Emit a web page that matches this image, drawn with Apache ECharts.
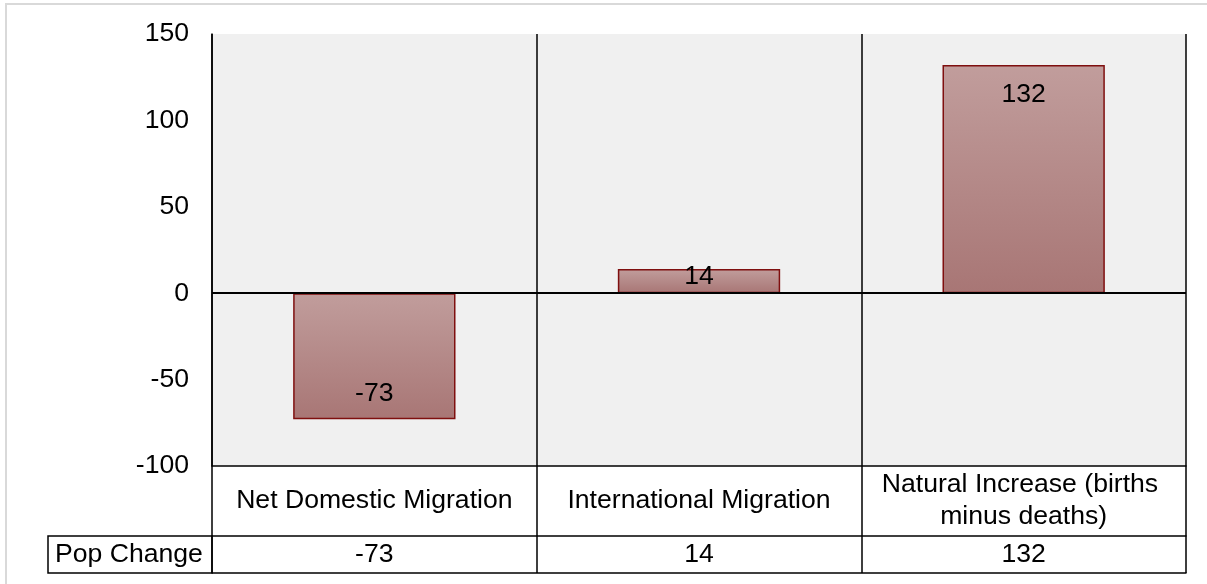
<!DOCTYPE html>
<html>
<head>
<meta charset="utf-8">
<script src="https://cdn.jsdelivr.net/npm/echarts@6/dist/echarts.min.js"></script>
<style>
  html, body { margin: 0; padding: 0; background: #fff; }
  #chart { width: 1207px; height: 584px; }
</style>
</head>
<body>
<div id="chart"></div>
<script>
var categories = ['Net Domestic Migration', 'International Migration', 'Natural Increase (births minus deaths)'];
var popChange = [-73, 14, 132];
var seriesName = 'Pop Change';
var yTicks = [-100, -50, 0, 50, 100, 150];

var font = 'Liberation Sans, Arial, sans-serif';
var fs = 26.6;

// label placement per bar (Excel "inside end")
var labelPlace = [
    { position: 'insideBottom', distance: 12 },
    { position: 'insideTop', distance: -6 },
    { position: 'insideTop', distance: 16 }
];

var chart = echarts.init(document.getElementById('chart'));

var option = {
    animation: false,
    grid: {
        left: 212,
        right: 21,
        top: 34,
        bottom: 118,
        show: true,
        backgroundColor: '#f0f0f0',
        borderWidth: 0,
        containLabel: false,
        outerBoundsMode: 'none'
    },
    xAxis: [
        {
            type: 'category',
            data: categories,
            position: 'bottom',
            axisLine: { onZero: false, lineStyle: { color: '#000', width: 1.5 } },
            axisTick: { show: true, length: 107, lineStyle: { color: '#000', width: 1.5 } },
            splitLine: { show: true, lineStyle: { color: '#000', width: 1.5 } },
            axisLabel: {
                color: '#000',
                fontFamily: font,
                fontSize: fs,
                margin: 35,
                verticalAlign: 'middle',
                lineHeight: 32,
                width: 310,
                overflow: 'break',
                interval: 0
            }
        },
        {
            type: 'category',
            data: categories,
            position: 'bottom',
            offset: 70,
            axisLine: { onZero: false, lineStyle: { color: '#000', width: 1.5 } },
            axisTick: { show: false },
            splitLine: { show: false },
            axisLabel: {
                color: '#000',
                fontFamily: font,
                fontSize: fs,
                margin: 19,
                verticalAlign: 'middle',
                interval: 0,
                formatter: function (v, i) { return String(popChange[i]); }
            }
        },
        {
            type: 'category',
            data: categories,
            position: 'bottom',
            offset: 107,
            axisLine: { onZero: false, lineStyle: { color: '#000', width: 1.5 } },
            axisTick: { show: false },
            splitLine: { show: false },
            axisLabel: { show: false }
        }
    ],
    yAxis: {
        type: 'value',
        min: yTicks[0],
        max: yTicks[yTicks.length - 1],
        interval: 50,
        axisLine: { show: true, lineStyle: { color: '#000', width: 1.5 } },
        axisTick: { show: false },
        splitLine: { show: false },
        axisLabel: {
            color: '#000',
            fontFamily: font,
            fontSize: fs,
            margin: 23
        }
    },
    series: [
        {
            name: seriesName,
            type: 'bar',
            barWidth: '50%',
            data: popChange.map(function (v, i) {
                return { value: v, label: labelPlace[i] };
            }),
            itemStyle: {
                color: new echarts.graphic.LinearGradient(0, 0, 0, 1, [
                    { offset: 0, color: '#c19d9c' },
                    { offset: 1, color: '#a87675' }
                ]),
                borderColor: '#7f0f0f',
                borderWidth: 1.5
            },
            label: {
                show: true,
                color: '#000',
                fontFamily: font,
                fontSize: fs
            },
            markLine: {
                silent: true,
                symbol: 'none',
                label: { show: false },
                lineStyle: { color: '#000', width: 2, type: 'solid' },
                data: [{ yAxis: 0 }]
            }
        }
    ],
    graphic: [
        {
            type: 'rect',
            shape: { x: 6, y: 4, width: 1240, height: 640 },
            style: { fill: null, stroke: '#d9d9d9', lineWidth: 2 },
            silent: true
        },
        {
            type: 'rect',
            shape: { x: 48, y: 536, width: 164, height: 37 },
            style: { fill: null, stroke: '#000', lineWidth: 1.5 },
            silent: true
        },
        {
            type: 'text',
            x: 55,
            y: 555,
            style: {
                text: seriesName,
                fill: '#000',
                font: fs + 'px ' + font,
                verticalAlign: 'middle'
            },
            silent: true
        }
    ]
};

chart.setOption(option);
</script>
</body>
</html>
